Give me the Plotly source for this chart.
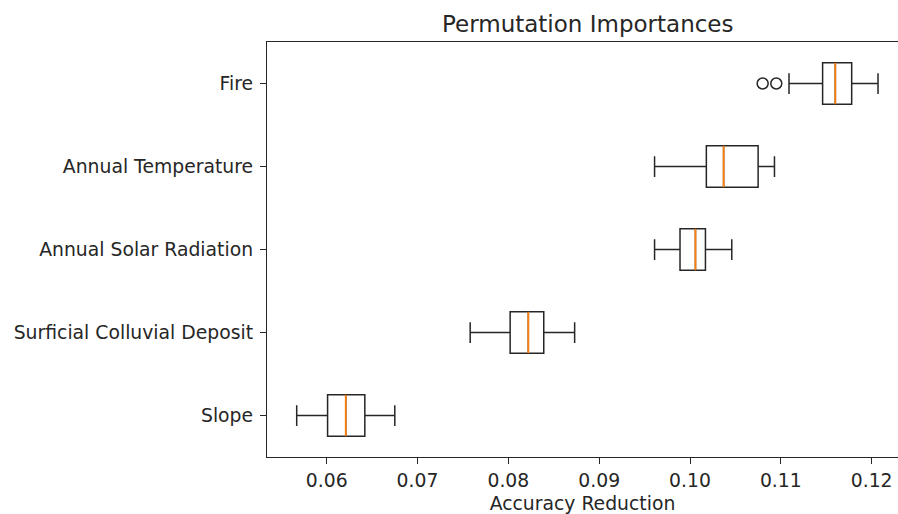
import plotly.graph_objects as go

# ---- data ----
categories = ["Slope", "Surficial Colluvial Deposit", "Annual Solar Radiation",
              "Annual Temperature", "Fire"]
lower_whisker = [0.0567, 0.0758, 0.0961, 0.0961, 0.1109]
q1_vals = [0.0601, 0.0802, 0.0989, 0.1018, 0.1146]
median_vals = [0.0621, 0.0822, 0.1006, 0.1037, 0.1160]
q3_vals = [0.0642, 0.0839, 0.1017, 0.1075, 0.1178]
upper_whisker = [0.0675, 0.0873, 0.1046, 0.1093, 0.1207]
fire_outliers = [0.1080, 0.1095]
x_ticks = [0.06, 0.07, 0.08, 0.09, 0.10, 0.11, 0.12]

positions = list(range(1, len(categories) + 1))
TEXT = "#262626"
LINE = "#262626"
FONT = "DejaVu Sans"
BOXW = 0.5

fig = go.Figure()

fig.add_trace(go.Box(
    orientation="h",
    y=positions,
    q1=q1_vals, median=median_vals, q3=q3_vals,
    lowerfence=lower_whisker, upperfence=upper_whisker,
    width=BOXW, whiskerwidth=0.5,
    line=dict(color=LINE, width=1.5),
    fillcolor="rgba(0,0,0,0)",
    boxpoints=False,
    showlegend=False, hoverinfo="skip",
))

# orange median lines
mx, my = [], []
for p, m in zip(positions, median_vals):
    mx += [m, m, None]
    my += [p - BOXW / 2, p + BOXW / 2, None]
fig.add_trace(go.Scatter(x=mx, y=my, mode="lines",
                         line=dict(color="#ff7f0e", width=1.8),
                         showlegend=False, hoverinfo="skip"))

# outliers of Fire
fig.add_trace(go.Scatter(x=fire_outliers, y=[positions[-1]] * len(fire_outliers),
                         mode="markers",
                         marker=dict(symbol="circle-open", size=11,
                                     color=LINE, line=dict(width=1.5, color=LINE)),
                         showlegend=False, hoverinfo="skip"))

fig.update_layout(
    width=898, height=514,
    margin=dict(l=267, r=0, t=42, b=57),
    paper_bgcolor="white", plot_bgcolor="white",
    font=dict(family=FONT, size=18.8, color=TEXT),
    annotations=[dict(text="Permutation Importances", xref="paper", yref="paper",
                      x=0.508, y=1.0, yanchor="bottom", xanchor="center",
                      yshift=3, showarrow=False,
                      font=dict(family=FONT, size=23, color=TEXT))],
)

fig.update_xaxes(
    range=[0.05343, 0.12290],
    tickvals=x_ticks, ticktext=[f"{v:.2f}" for v in x_ticks],
    ticks="outside", ticklen=6, tickwidth=1.2, tickcolor=LINE,
    showline=True, linecolor=LINE, linewidth=1.3, mirror=True,
    showgrid=False, zeroline=False,
    title=dict(text="Accuracy Reduction", standoff=7,
               font=dict(family=FONT, size=18.8, color=TEXT)),
)
fig.update_yaxes(
    range=[0.5, 5.5],
    tickvals=positions, ticktext=categories,
    ticks="outside", ticklen=6, tickwidth=1.2, tickcolor=LINE,
    ticklabelstandoff=3,
    showline=True, linecolor=LINE, linewidth=1.3, mirror=False,
    showgrid=False, zeroline=False,
)

fig.write_html("out.html")
